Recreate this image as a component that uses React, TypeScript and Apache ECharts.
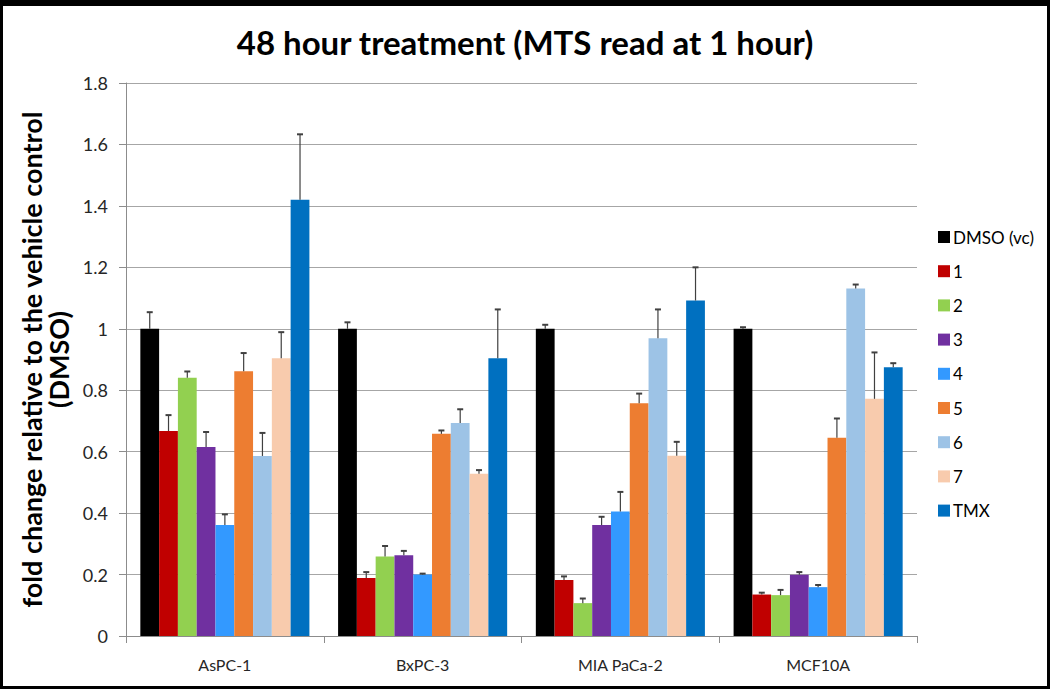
import React, { useEffect, useRef } from "react";
import * as echarts from "echarts";

const categories = ["AsPC-1", "BxPC-3", "MIA PaCa-2", "MCF10A"];
const seriesNames = ["DMSO (vc)", "1", "2", "3", "4", "5", "6", "7", "TMX"];
const colors = ["#000000", "#C00000", "#92D050", "#7030A0", "#3399FF", "#ED7D31", "#9DC3E6", "#F8CBAD", "#0070C0"];

// values per series, across categories
const dmso = [1.0, 1.0, 1.0, 1.0];
const c1 = [0.667, 0.189, 0.182, 0.135];
const c2 = [0.841, 0.259, 0.107, 0.133];
const c3 = [0.615, 0.263, 0.361, 0.199];
const c4 = [0.361, 0.2, 0.405, 0.159];
const c5 = [0.862, 0.658, 0.758, 0.645];
const c6 = [0.586, 0.693, 0.969, 1.131];
const c7 = [0.904, 0.528, 0.587, 0.772];
const tmx = [1.42, 0.904, 1.092, 0.875];

// positive error (standard deviation) per series, across categories
const dmsoErr = [0.054, 0.021, 0.013, 0.005];
const c1Err = [0.052, 0.019, 0.012, 0.006];
const c2Err = [0.02, 0.034, 0.015, 0.017];
const c3Err = [0.049, 0.014, 0.027, 0.009];
const c4Err = [0.035, 0.003, 0.064, 0.007];
const c5Err = [0.059, 0.011, 0.031, 0.063];
const c6Err = [0.075, 0.045, 0.094, 0.013];
const c7Err = [0.085, 0.012, 0.045, 0.151];
const tmxErr = [0.213, 0.159, 0.108, 0.013];

const values = [dmso, c1, c2, c3, c4, c5, c6, c7, tmx];
const errors = [dmsoErr, c1Err, c2Err, c3Err, c4Err, c5Err, c6Err, c7Err, tmxErr];

const yTicks = { min: 0, max: 1.8, interval: 0.2 };

const CAT_GAP = 0.145;

export default function App() {
  const ref = useRef<HTMLDivElement>(null);
  useEffect(() => {
    document.body.style.margin = "0";
    const chart = echarts.init(ref.current!, undefined, { renderer: "svg" });
    const font = "Lato, 'Open Sans', sans-serif";
    const barSeries = seriesNames.map((name, i) => ({
      name,
      type: "bar",
      data: values[i],
      itemStyle: { color: colors[i] },
      barGap: "0%",
      barCategoryGap: CAT_GAP * 100 + "%",
      z: 2,
    }));
    const errData: number[][] = [];
    values.forEach((vals, si) => {
      vals.forEach((v, ci) => {
        errData.push([ci, si, v, v + errors[si][ci]]);
      });
    });
    const n = seriesNames.length;
    const errSeries = {
      type: "custom",
      name: "err",
      data: errData,
      encode: { x: 0, y: 3 },
      z: 5,
      silent: true,
      renderItem: (params: any, api: any) => {
        const ci = api.value(0);
        const si = api.value(1);
        const v = api.value(2);
        const top = api.value(3);
        const catW = api.size([1, 0])[0];
        const bw = (catW * (1 - CAT_GAP)) / n;
        const center = api.coord([ci, v]);
        const x = center[0] + (si - (n - 1) / 2) * bw;
        const yv = center[1];
        const yt = api.coord([ci, top])[1];
        const style = { stroke: "#404040", lineWidth: 1.2 };
        return {
          type: "group",
          children: [
            { type: "line", shape: { x1: x, y1: yv, x2: x, y2: yt }, style },
            { type: "line", shape: { x1: x - 3, y1: yt, x2: x + 3, y2: yt }, style: { stroke: "#404040", lineWidth: 2 } },
          ],
        };
      },
    };
    chart.setOption({
      animation: false,
      backgroundColor: "#ffffff",
      title: {
        text: "48 hour treatment (MTS read at 1 hour)",
        left: "center",
        top: 20,
        textStyle: { fontFamily: font, fontWeight: "bold", fontSize: 33, color: "#000" },
      },
      legend: {
        orient: "vertical",
        left: 933,
        top: 222,
        itemWidth: 12,
        itemHeight: 12,
        itemGap: 14.2,
        icon: "rect",
        data: seriesNames,
        textStyle: { fontFamily: font, fontSize: 17, color: "#000", lineHeight: 20, padding: [0, 0, 0, -2] },
      },
      grid: { left: 126, right: 133, top: 83, bottom: 53 },
      xAxis: {
        type: "category",
        data: categories,
        axisLine: { lineStyle: { color: "#8c8c8c" } },
        axisTick: { show: true, length: 7, lineStyle: { color: "#8c8c8c" } },
        axisLabel: { fontFamily: font, fontSize: 16, color: "#262626", margin: 20 },
      },
      yAxis: {
        type: "value",
        min: yTicks.min,
        max: yTicks.max,
        interval: yTicks.interval,
        name: "fold change relative to the vehicle control\n(DMSO)",
        nameLocation: "middle",
        nameGap: 50,
        nameTextStyle: { fontFamily: font, fontWeight: "bold", fontSize: 27, color: "#000", lineHeight: 27 },
        axisLine: { show: true, lineStyle: { color: "#8c8c8c" } },
        axisTick: { show: true, length: 7, lineStyle: { color: "#8c8c8c" } },
        axisLabel: {
          fontFamily: font,
          fontSize: 18,
          color: "#262626",
          margin: 18,
          formatter: (v: number) => String(Math.round(v * 10) / 10),
        },
        splitLine: { lineStyle: { color: "#a6a6a6" } },
      },
      series: [...barSeries, errSeries],
    });
    return () => chart.dispose();
  }, []);
  return (
    <div style={{ position: "absolute", left: 0, top: 0, width: 1050, height: 689 }}>
      <div ref={ref} style={{ position: "absolute", left: 0, top: 0, width: 1050, height: 689 }} />
      <div
        style={{
          position: "absolute",
          left: 0,
          top: 0,
          width: 1050,
          height: 689,
          boxSizing: "border-box",
          borderTop: "6px solid #000",
          borderLeft: "3px solid #000",
          borderRight: "3px solid #000",
          borderBottom: "3px solid #000",
          pointerEvents: "none",
        }}
      />
    </div>
  );
}
